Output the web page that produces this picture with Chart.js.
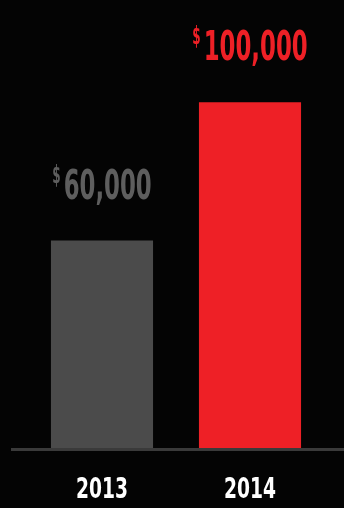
<!DOCTYPE html>
<html>
<head>
<meta charset="utf-8">
<script src="https://cdn.jsdelivr.net/npm/chart.js@4"></script>
<style>
  html, body { margin: 0; padding: 0; background: #040404; }
  #wrap { width: 344px; height: 508px; position: relative; }
</style>
</head>
<body>
<div id="wrap"><canvas id="c" width="344" height="508"></canvas></div>
<script>
const categories = ['2013', '2014'];
const values = [60000, 100000];
const currencySymbol = '$';
const barColors = ['#4b4b4b', '#ee2026'];
const labelColors = ['#5e5e5e', '#ee2026'];

const FONT = '"DejaVu Sans Condensed", "DejaVu Sans", sans-serif';

function drawSquished(ctx, text, x, y, size, scaleX, align) {
  ctx.save();
  ctx.font = 'bold ' + size + 'px ' + FONT;
  const w = ctx.measureText(text).width * scaleX;
  let left = x;
  if (align === 'center') left = x - w / 2;
  ctx.translate(left, y);
  ctx.scale(scaleX, 1);
  ctx.textAlign = 'left';
  ctx.textBaseline = 'alphabetic';
  ctx.fillText(text, 0, 0);
  ctx.restore();
  return w;
}
function measureSquished(ctx, text, size, scaleX) {
  ctx.save();
  ctx.font = 'bold ' + size + 'px ' + FONT;
  const w = ctx.measureText(text).width * scaleX;
  ctx.restore();
  return w;
}

const decor = {
  id: 'decor',
  afterDatasetsDraw(chart) {
    const ctx = chart.ctx;
    const area = chart.chartArea;
    const meta = chart.getDatasetMeta(0);
    ctx.save();
    ctx.fillStyle = '#3a3a3a';
    ctx.fillRect(11, area.bottom, chart.width - 11, 3);
    ctx.restore();

    const numSize = 41;
    ctx.save();
    ctx.font = 'bold ' + numSize + 'px ' + FONT;
    const refW = ctx.measureText('100,000').width;
    ctx.restore();
    const sx = 104 / refW;

    meta.data.forEach((bar, i) => {
      const txt = values[i].toLocaleString('en-US');
      const numW = measureSquished(ctx, txt, numSize, sx);
      const curSize = 24;
      const curSx = sx * 0.9;
      const curW = measureSquished(ctx, currencySymbol, curSize, curSx);
      const gap = 3;
      const total = curW + gap + numW;
      const left = bar.x - total / 2;
      const baseY = bar.y - 42;
      ctx.fillStyle = labelColors[i];
      drawSquished(ctx, currencySymbol, left, baseY - 16, curSize, curSx, 'left');
      drawSquished(ctx, txt, left + curW + gap, baseY, numSize, sx, 'left');

      ctx.fillStyle = '#ffffff';
      const catSize = 29;
      ctx.save();
      ctx.font = 'bold ' + catSize + 'px ' + FONT;
      const cw = ctx.measureText('2014').width;
      ctx.restore();
      drawSquished(ctx, categories[i], bar.x, 498, catSize, 52 / cw, 'center');
    });
  }
};

new Chart(document.getElementById('c'), {
  type: 'bar',
  data: {
    labels: categories,
    datasets: [{
      data: values,
      backgroundColor: barColors,
      borderWidth: 0,
      barPercentage: 0.69,
      categoryPercentage: 1.0
    }]
  },
  options: {
    responsive: false,
    animation: false,
    devicePixelRatio: 1,
    layout: { padding: { left: 28, right: 20, top: 33, bottom: 60 } },
    plugins: { legend: { display: false }, tooltip: { enabled: false } },
    scales: {
      x: { display: false },
      y: { display: false, min: 0, max: 120000 }
    }
  },
  plugins: [decor]
});
</script>
</body>
</html>
